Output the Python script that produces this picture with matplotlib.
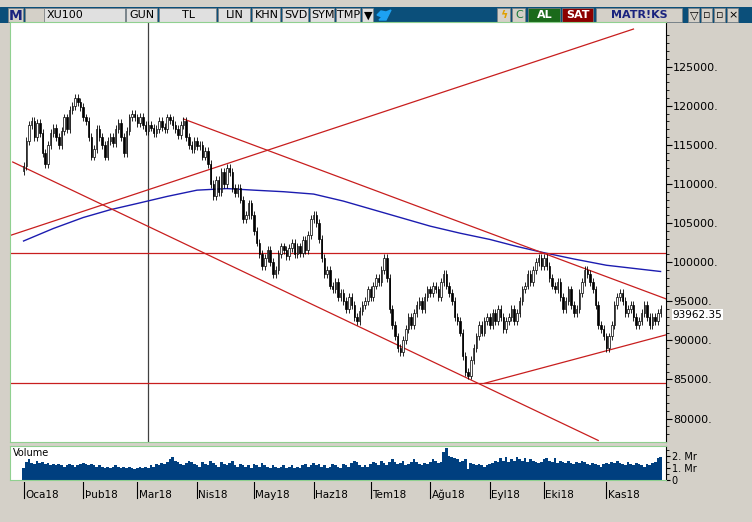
import matplotlib.pyplot as plt
import numpy as np
from matplotlib.patches import Rectangle, Polygon

# daily closes (thousands), by month
closes = [
    # Oca
    112.3, 115.5, 117.5, 118.0, 116.0, 117.8, 116.5, 114.0, 112.5, 115.0, 116.5,
    117.2, 116.0, 115.0, 116.8, 118.5, 117.0, 119.5, 120.0, 121.0, 120.5, 119.8,
    # Şub
    118.5, 118.0, 116.0, 113.5, 114.5, 117.0, 116.0, 115.0, 113.5, 115.5,
    116.0, 115.2, 117.0, 117.8, 116.0, 114.0, 116.8, 118.5, 119.0, 118.5,
    # Mar
    117.8, 118.6, 117.5, 116.8, 117.5, 117.2, 116.5, 117.0, 118.0, 117.3, 117.0,
    118.5, 118.2, 117.5, 117.0, 116.3, 117.5, 118.0, 116.0, 115.0, 114.5, 115.5,
    # Nis
    114.8, 115.0, 113.5, 114.2, 112.5, 110.0, 108.5, 110.5, 109.0, 111.5, 110.0,
    112.0, 111.5, 109.5, 108.8, 109.5, 108.0, 105.5, 106.0, 107.5, 106.0,
    # May
    104.0, 102.5, 101.0, 99.5, 100.5, 101.5, 100.0, 98.5, 99.0, 101.0, 102.0,
    101.5, 100.8, 101.8, 102.5, 101.0, 102.0, 101.2, 102.8, 101.5, 103.5, 105.5,
    # Haz
    106.0, 105.0, 103.0, 100.5, 98.5, 99.0, 97.0, 96.5, 97.5, 95.5, 96.0,
    95.0, 94.0, 95.5, 94.5, 93.0, 92.5, 93.8, 94.5, 95.0, 96.5,
    # Tem
    95.5, 97.0, 98.0, 97.5, 99.0, 100.5, 98.0, 94.0, 92.0, 90.5, 89.0,
    88.5, 90.0, 91.5, 93.0, 92.0, 93.5, 94.5, 95.0, 94.0, 95.5, 96.5,
    # Ağu
    96.0, 97.0, 96.5, 95.5, 97.5, 98.5, 97.0, 96.0, 95.0, 93.0, 92.5,
    91.0, 88.0, 86.0, 85.5, 87.5, 89.0, 90.5, 92.0, 91.0, 92.5, 93.0,
    # Eyl
    92.0, 93.5, 92.5, 94.0, 93.0, 91.5, 92.5, 93.0, 94.0, 92.5,
    93.5, 95.0, 96.5, 97.0, 98.5, 97.5, 99.0, 100.0, 100.5, 99.5,
    # Eki
    100.5, 99.5, 98.0, 97.0, 96.5, 97.5, 95.5, 94.0, 95.0, 96.5, 94.5, 93.5,
    94.0, 96.0, 97.5, 99.0, 98.5, 97.5, 96.5, 94.5, 92.0, 91.5, 90.5,
    # Kas
    89.0, 90.5, 92.0, 94.5, 95.5, 96.0, 95.0, 93.5, 94.0, 94.5, 93.0,
    92.0, 92.5, 93.5, 94.5, 93.0, 92.0, 93.0, 92.5, 93.5, 93.96235,
]

# daily volume (Mr)
volume = [
    1.0, 1.5, 1.7, 1.4, 1.3, 1.6, 1.4, 1.5, 1.3, 1.4, 1.2, 1.3, 1.2, 1.3, 1.2, 1.1, 1.2, 1.3, 1.2, 1.1, 1.2, 1.3,
    1.4, 1.3, 1.2, 1.3, 1.2, 1.1, 1.2, 1.1, 1.0, 1.1, 1.0, 1.1, 1.2, 1.1, 1.0, 1.1, 1.0, 1.1, 1.0, 0.9,
    1.0, 1.1, 1.0, 1.1, 1.0, 1.2, 1.1, 1.3, 1.2, 1.4, 1.3, 1.5, 1.7, 1.9, 1.6, 1.5, 1.3, 1.2, 1.4, 1.6, 1.5, 1.3,
    1.2, 1.1, 1.5, 1.3, 1.2, 1.6, 1.4, 1.2, 1.1, 1.5, 1.3, 1.2, 1.4, 1.6, 1.2, 1.1, 1.3, 1.2, 1.1, 1.2, 1.0,
    1.3, 1.2, 1.1, 1.4, 1.2, 1.1, 1.0, 1.2, 1.1, 1.0, 1.1, 1.2, 1.0, 1.1, 1.2, 1.0, 1.1, 1.0, 1.2, 1.3, 1.1, 1.2,
    1.4, 1.2, 1.3, 1.1, 1.2, 1.0, 1.1, 1.3, 1.2, 1.1, 1.0, 1.3, 1.2, 1.1, 1.4, 1.6, 1.5, 1.2, 1.1, 1.2, 1.1,
    1.3, 1.5, 1.4, 1.2, 1.6, 1.4, 1.2, 1.5, 1.7, 1.5, 1.3, 1.4, 1.6, 1.2, 1.3, 1.5, 1.7, 1.5, 1.3, 1.2, 1.4, 1.3,
    1.5, 1.7, 1.6, 1.4, 1.5, 2.3, 2.6, 2.0, 1.9, 1.8, 1.7, 1.5, 1.6, 1.7, 0.9, 1.4, 1.3, 1.2, 1.3, 1.2, 1.1, 1.2,
    1.3, 1.4, 1.6, 1.5, 1.8, 1.6, 1.9, 1.5, 1.7, 1.6, 1.9, 1.7, 1.6, 1.8, 1.5, 1.7, 1.6, 1.5, 1.4, 1.5,
    1.7, 1.8, 1.6, 1.5, 1.8, 1.4, 1.6, 1.5, 1.4, 1.6, 1.4, 1.3, 1.5, 1.4, 1.6, 1.5, 1.3, 1.2, 1.4, 1.3, 1.2, 1.1, 1.3,
    1.4, 1.3, 1.5, 1.4, 1.6, 1.4, 1.3, 1.2, 1.5, 1.3, 1.2, 1.4, 1.3, 1.2, 1.1, 1.3, 1.2, 1.4, 1.5, 1.8, 1.9,
]

# 200-day moving average readings (day index, value)
ma_idx = [0, 11, 22, 32, 42, 53, 64, 75, 85, 96, 107, 118, 128, 139, 150,
          161, 172, 182, 192, 203, 215, 225, 235]
ma_val = [102.7, 104.3, 105.7, 106.7, 107.5, 108.4, 109.2, 109.4, 109.2, 109.0,
          108.7, 107.8, 106.8, 105.7, 104.6, 103.7, 102.9, 102.0, 101.2, 100.4,
          99.6, 99.2, 98.8]

# trend lines ((x0, y0), (x1, y1)) in day index / thousands
trend_lines = [
    ((-5, 101.2), (237, 101.2)),
    ((-5, 84.5), (237, 84.5)),
    ((59, 118.3), (237, 95.3)),
    ((-5, 103.4), (225, 129.8)),
    ((-4, 112.8), (212, 77.2)),
    ((170, 84.5), (237, 90.7)),
]

month_labels = ["Oca18", "Þub18", "Mar18", "Nis18", "May18", "Haz18",
                "Tem18", "Ağu18", "Eyl18", "Eki18", "Kas18"]
month_start = [0, 22, 42, 64, 85, 107, 128, 150, 172, 192, 215]

W, H = 752, 522
fig = plt.figure(figsize=(W / 100, H / 100), dpi=100)
fig.patch.set_facecolor("#d4d0c8")

def rect(x, y, w, h):
    return [x / W, 1 - (y + h) / H, w / W, h / H]

# toolbar
tb = fig.add_axes(rect(0, 7, 752, 16))
tb.set_xlim(0, 752); tb.set_ylim(16, 0); tb.axis("off")
tb.add_patch(Rectangle((0, 0), 752, 16, color="#0b4f7a"))
buttons = [(8, 16, "M", "#d4d0c8", "#1a237e"), (25, 20, "", "#d4d0c8", "k"),
           (44, 82, "XU100", "#e0e0e0", "k"), (126, 32, "GUN", "#e0e0e0", "k"),
           (159, 58, "TL", "#e0e0e0", "k"), (218, 33, "LIN", "#e0e0e0", "k"),
           (252, 29, "KHN", "#e0e0e0", "k"), (282, 27, "SVD", "#e0e0e0", "k"),
           (310, 25, "SYM", "#e0e0e0", "k"), (336, 25, "TMP", "#e0e0e0", "k"),
           (362, 12, "▼", "#e0e0e0", "k"), (497, 14, "ϟ", "#d4d0c8", "#e0a000"),
           (512, 14, "C", "#d4d0c8", "#1a7a3a"), (528, 33, "AL", "#1a6a1a", "white"),
           (562, 32, "SAT", "#8b0000", "white"), (596, 87, "MATR!KS", "#d4d0c8", "#1a237e"),
           (688, 12, "▽", "#d4d0c8", "k"), (701, 12, "▫", "#d4d0c8", "k"),
           (714, 12, "▫", "#d4d0c8", "k"), (727, 12, "×", "#d4d0c8", "k")]
for x, w, t, fc, tc in buttons:
    tb.add_patch(Rectangle((x, 1), w - 1, 14, facecolor=fc, edgecolor="#808080", lw=0.5))
    ha = "left" if t == "XU100" else "center"
    tx = x + 3 if ha == "left" else x + w / 2
    tb.text(tx, 8.5, t, ha=ha, va="center", fontsize=8 if t != "M" else 10,
            color=tc, weight="bold" if t in ("AL", "SAT", "MATR!KS", "M", "ϟ") else "normal")
# twitter bird as a simple shape
tb.add_patch(Polygon([(377, 8), (381, 4), (386, 5), (391, 3), (389, 7),
                      (386, 13), (379, 13), (382, 10)], color="#1da1f2"))

# price panel
ax = fig.add_axes(rect(10, 22, 656, 420))
ax.set_facecolor("white")
for s in ax.spines.values():
    s.set_color("#90d090")
ax.spines["right"].set_color("black")
n = len(closes)
x = np.arange(n)
c = np.array(closes) * 1000
o = np.concatenate([[c[0] - 600], c[:-1]])
hi = np.maximum(o, c) + 500
lo = np.minimum(o, c) - 500
ax.vlines(x, lo, hi, color="black", lw=0.6, zorder=3)
up = c >= o
ax.bar(x[up], (c - o)[up], bottom=o[up], width=0.55, facecolor="white",
       edgecolor="black", lw=0.5, zorder=4)
ax.bar(x[~up], (o - c)[~up], bottom=c[~up], width=0.55, facecolor="black",
       edgecolor="black", lw=0.5, zorder=4)
ax.plot(ma_idx, np.array(ma_val) * 1000, color="#1c1cb0", lw=1, zorder=2)
for (x0, y0), (x1, y1) in trend_lines:
    ax.plot([x0, x1], [y0 * 1000, y1 * 1000], color="#c81e1e", lw=0.9, zorder=2)
ax.axvline(46, color="#404040", lw=0.9, zorder=1)
ax.set_xlim(-5, 237)
ax.set_ylim(77000, 130700)
ax.yaxis.tick_right()
ax.set_yticks(range(80000, 126000, 5000))
ax.set_yticklabels([f"{v}." for v in range(80000, 126000, 5000)], fontsize=8)
ax.set_yticks(range(78000, 130000, 1000), minor=True)
ax.tick_params(axis="y", length=4, which="major", direction="out", pad=1)
ax.tick_params(axis="y", length=2, which="minor")
ax.set_xticks([])
ax.text(239.5, c[-1] - 700, f"{c[-1]:.2f}", fontsize=7.5, va="center", ha="left",
        clip_on=False, bbox=dict(facecolor="white", edgecolor="none", pad=0.3))

# volume panel
av = fig.add_axes(rect(10, 446, 656, 34))
av.bar(x, volume, width=1.0, color="#003f7f")
av.set_xlim(-5, 237)
av.set_ylim(0, 2.8)
av.yaxis.tick_right()
av.set_yticks([0, 1, 2])
av.set_yticklabels(["0", "1. Mr", "2. Mr"], fontsize=7)
av.set_yticks(np.arange(0, 2.8, 0.5), minor=True)
av.tick_params(axis="y", length=3, pad=1)
av.tick_params(axis="y", which="minor", length=2)
av.set_xticks([])
for s in av.spines.values():
    s.set_color("#90d090")
av.spines["right"].set_color("black")
av.text(0.005, 0.95, "Volume", transform=av.transAxes, fontsize=7, va="top")

# date axis
ad = fig.add_axes(rect(10, 482, 656, 24))
ad.set_xlim(-5, 237); ad.set_ylim(0, 1)
ad.axis("off")
for ms, lab in zip(month_start, month_labels):
    ad.plot([ms, ms], [0.35, 1], color="black", lw=0.8)
    ad.text(ms + 0.5, 0.45, lab, fontsize=7.5, va="center", ha="left")

fig.savefig("out.png", dpi=100, facecolor=fig.get_facecolor())
